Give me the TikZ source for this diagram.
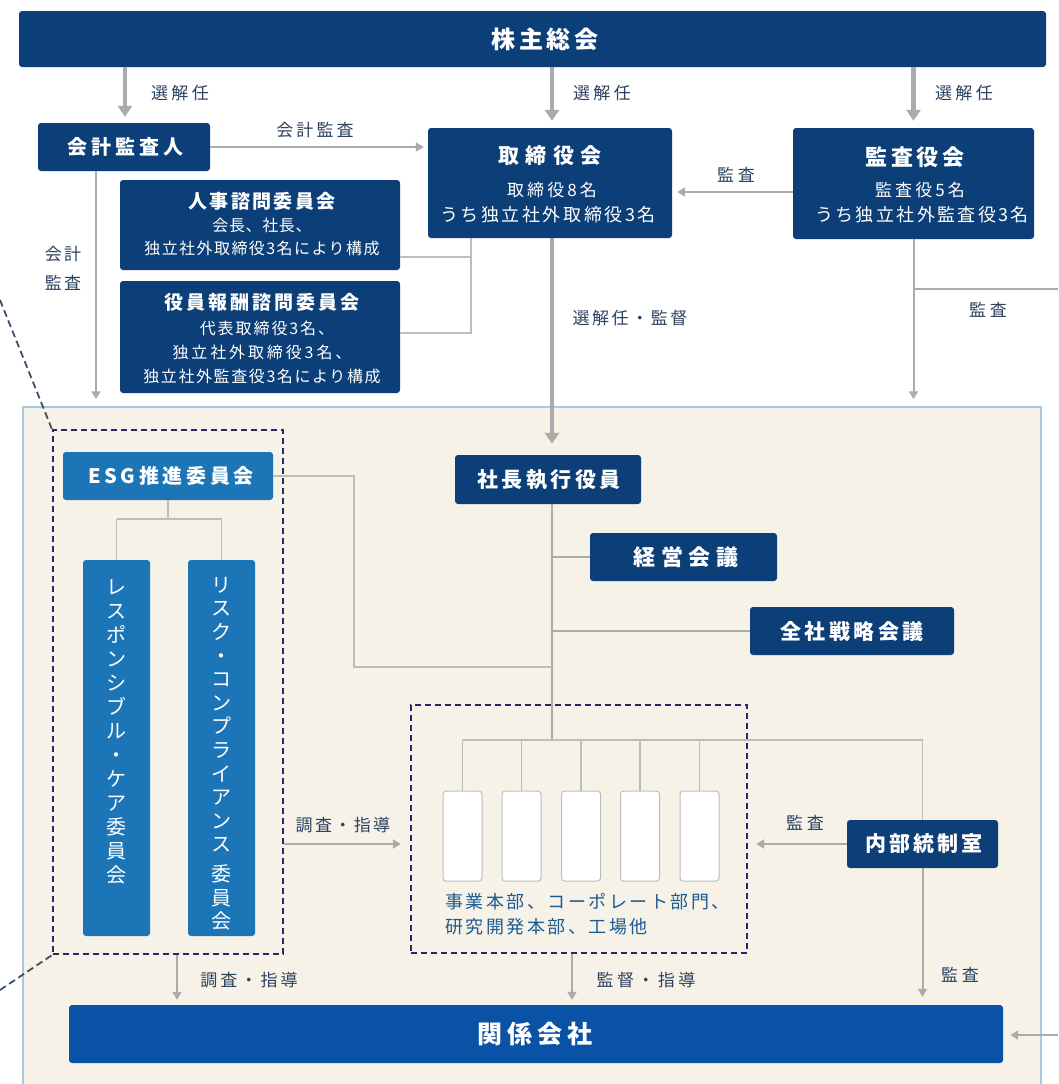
\documentclass[tikz,border=0pt]{standalone}
\usepackage{fontspec}
\setmainfont{Noto Sans CJK JP}
\usetikzlibrary{arrows.meta}
\definecolor{navy}{HTML}{0C3E78}
\definecolor{esgblue}{HTML}{1B75B7}
\definecolor{kblue}{HTML}{0952A5}
\definecolor{beige}{HTML}{F6F2E7}
\definecolor{beigeedge}{HTML}{A9C8E0}
\definecolor{lblcol}{HTML}{2B4260}
\definecolor{unitcol}{HTML}{1E5A96}
\definecolor{arrowgray}{HTML}{ABABAB}
\definecolor{treegray}{HTML}{BDBDBD}
\definecolor{dashcol}{HTML}{282864}
\definecolor{diagcol}{HTML}{3C506E}
\newcommand{\myfs}[2]{\fontsize{#1}{#2}\selectfont}
\newcommand{\lsp}[1]{\addfontfeatures{LetterSpace=#1}}
\begin{document}
\begin{tikzpicture}[x=1pt,y=-1pt,
  navybox/.style={fill=navy, rounded corners=3pt, inner sep=0pt, draw=none},
  esgbox/.style={fill=esgblue, rounded corners=3pt, inner sep=0pt, draw=none},
  whitebox/.style={fill=white, draw=treegray, line width=1pt, rounded corners=3pt, inner sep=0pt, minimum width=39pt, minimum height=90pt},
  wtxt/.style={text=white, inner sep=0pt, align=center},
  lbl/.style={text=lblcol, inner sep=0pt, align=center, font=\myfs{17}{20}},
  thickarrow/.style={draw=arrowgray, line width=4.5pt, -{Triangle[width=14pt,length=11pt]}},
  thinarrow/.style={draw=arrowgray, line width=2pt, -{Triangle[width=9pt,length=8pt]}},
  spineline/.style={draw=arrowgray, line width=2pt},
  treeline/.style={draw=treegray, line width=1.5pt},
  dashbox/.style={draw=dashcol, line width=2.4pt, dash pattern=on 6pt off 4pt, inner sep=0pt, fill=none},
  diagdash/.style={draw=diagcol, line width=1.8pt, dash pattern=on 7pt off 4pt}
]
\useasboundingbox (0,0) rectangle (1058,1084);
\fill[white] (0,0) rectangle (1058,1084);

% helper coordinates
\coordinate (xA) at (125,0);
\coordinate (xAud) at (96,0);
\coordinate (sp) at (552,0);
\coordinate (brk) at (471,0);
\coordinate (jy) at (0,257);
\coordinate (yy) at (0,333);
\coordinate (yK) at (0,192);
\coordinate (yBr) at (0,289);
\coordinate (offR1) at (1058,289);
\coordinate (offR2) at (1058,1035);
\coordinate (offL1) at (0,300);
\coordinate (offL2) at (0,990);
\coordinate (esgturn) at (354,0);
\coordinate (yjoin) at (0,667);
\coordinate (yt) at (0,519);
\coordinate (bus) at (0,740);
\coordinate (y844) at (0,844);
\coordinate (x177) at (177,0);
\coordinate (x572) at (572,0);

% executive area background
\node[fill=beige, draw=beigeedge, line width=1.5pt, inner sep=0pt, minimum width=1018pt, minimum height=690pt] (exec) at (532,752) {};

% top level boxes
\node[navybox, minimum width=1027pt, minimum height=56pt] (gm) at (532.5,39) {};
\node[wtxt, font=\myfs{24}{28}\bfseries\lsp{16}] (gmT) at (545,39) {株主総会};

\node[navybox, minimum width=172pt, minimum height=48pt] (auditor) at (124,147) {};
\node[wtxt, font=\myfs{20}{24}\bfseries\lsp{20}] (auditorT) at (125,147) {会計監査人};

\node[navybox, minimum width=244pt, minimum height=110pt] (board) at (550,183) {};
\node[wtxt, font=\myfs{21}{24}\bfseries\lsp{30}] (boardT) at (550,156) {取締役会};
\node[wtxt, font=\myfs{17}{20}\lsp{18}] (boardL2) at (552,190) {取締役8名};
\node[wtxt, font=\myfs{18}{20}\lsp{14}] (boardL3) at (548,215) {うち独立社外取締役3名};

\node[navybox, minimum width=241pt, minimum height=111pt] (kansa) at (913.5,183.5) {};
\node[wtxt, font=\myfs{22}{24}\bfseries\lsp{17}] (kansaT) at (915,157) {監査役会};
\node[wtxt, font=\myfs{17}{20}\lsp{18}] (kansaL2) at (920,190) {監査役5名};
\node[wtxt, font=\myfs{18}{20}\lsp{13}] (kansaL3) at (922,215) {うち独立社外監査役3名};

\node[navybox, minimum width=280pt, minimum height=90pt] (jinji) at (260,225) {};
\node[wtxt, font=\myfs{19}{22}\bfseries\lsp{12}] (jinjiT) at (262,201) {人事諮問委員会};
\node[wtxt, font=\myfs{16}{18}\lsp{4}] (jinjiL2) at (262,225) {会長、社長、};
\node[wtxt, font=\myfs{16}{18}\lsp{9}] (jinjiL3) at (262,248) {独立社外取締役3名により構成};

\node[navybox, minimum width=280pt, minimum height=112pt] (yakuin) at (260,337) {};
\node[wtxt, font=\myfs{19}{22}\bfseries\lsp{16}] (yakuinT) at (262,302) {役員報酬諮問委員会};
\node[wtxt, font=\myfs{16}{18}\lsp{12}] (yakuinL2) at (267,328) {代表取締役3名、};
\node[wtxt, font=\myfs{16}{18}\lsp{18}] (yakuinL3) at (262,352) {独立社外取締役3名、};
\node[wtxt, font=\myfs{16}{18}\lsp{10}] (yakuinL4) at (262,376) {独立社外監査役3名により構成};

% labels top
\node[lbl, font=\myfs{17}{20}\lsp{20}] (l1) at (180,93) {選解任};
\node[lbl, font=\myfs{17}{20}\lsp{20}] (l2) at (602,93) {選解任};
\node[lbl, font=\myfs{17}{20}\lsp{20}] (l3) at (964,93) {選解任};
\node[lbl, font=\myfs{17}{20}\lsp{18}] (l4) at (315,130) {会計監査};
\node[lbl, font=\myfs{17}{29}\lsp{14}] (l5) at (63,268) {会計\\監査};
\node[lbl, font=\myfs{17}{20}\lsp{22}] (l6) at (736,175) {監査};
\node[lbl, font=\myfs{17}{20}\lsp{15}] (l7) at (630,318) {選解任・監督};
\node[lbl, font=\myfs{17}{20}\lsp{22}] (l8) at (988,310) {監査};

% top connectors
\draw[thickarrow, shorten >=6pt] (gm.south -| xA) -- (auditor.north -| xA);
\draw[thickarrow, shorten >=7pt] (gm.south -| sp) -- (board.north -| sp);
\draw[thickarrow, shorten >=7pt] (gm.south -| kansa.north) -- (kansa.north);
\draw[thinarrow, shorten >=4pt] (auditor.east) -- (auditor.east -| board.west);
\draw[thinarrow, shorten >=5pt] (kansa.west |- yK) -- (board.east |- yK);
\draw[thinarrow, shorten >=7pt] (auditor.south -| xAud) -- (exec.north -| xAud);
\draw[thinarrow, shorten >=7pt] (kansa.south) -- (kansa.south |- exec.north);
\draw[spineline] (kansa.south |- yBr) -- (offR1);
\draw[treeline] (board.south -| brk) -- (brk |- yy) -- (yakuin.east |- yy);
\draw[treeline] (brk |- jy) -- (jinji.east |- jy);

% ESG group
\node[dashbox, minimum width=230pt, minimum height=524pt] (esgdash) at (168,692) {};
\node[esgbox, minimum width=210pt, minimum height=48pt] (esg) at (168,476) {};
\node[wtxt, font=\myfs{20}{24}\bfseries\lsp{18}] (esgT) at (171,476) {ESG推進委員会};
\node[esgbox, minimum width=67pt, minimum height=376pt] (resp) at (116.5,748) {};
\node[esgbox, minimum width=67pt, minimum height=376pt] (risk) at (221.5,748) {};
\node[wtxt, anchor=north, font=\myfs{20}{24}] (respT) at (116.5,579) {レ\\ス\\ポ\\ン\\シ\\ブ\\ル\\・\\ケ\\ア\\委\\員\\会};
\node[wtxt, anchor=north, font=\myfs{20}{23.6}] (riskT) at (221.5,577) {リ\\ス\\ク\\・\\コ\\ン\\プ\\ラ\\イ\\ア\\ン\\ス\\[6pt]委\\員\\会};
\draw[treeline] (esg.south) -- (esg.south |- yt);
\draw[treeline] (resp.north |- yt) -- (risk.north |- yt);
\draw[treeline] (resp.north |- yt) -- (resp.north);
\draw[treeline] (risk.north |- yt) -- (risk.north);

% executive chain
\node[navybox, minimum width=186pt, minimum height=49pt] (president) at (548,479.5) {};
\node[wtxt, font=\myfs{21}{24}\bfseries\lsp{17}] (presidentT) at (549,480) {社長執行役員};
\node[navybox, minimum width=187pt, minimum height=48pt] (keiei) at (683.5,557) {};
\node[wtxt, font=\myfs{22}{24}\bfseries\lsp{27}] (keieiT) at (686,557) {経営会議};
\node[navybox, minimum width=204pt, minimum height=48pt] (zensha) at (852,631) {};
\node[wtxt, font=\myfs{21}{24}\bfseries\lsp{17}] (zenshaT) at (852,631) {全社戦略会議};

\draw[thickarrow, shorten >=11pt] (board.south -| sp) -- (president.north -| sp);
\draw[spineline] (president.south -| sp) -- (sp |- bus);
\draw[spineline] (sp |- keiei.west) -- (keiei.west);
\draw[spineline] (sp |- zensha.west) -- (zensha.west);
\draw[treeline] (esg.east) -- (esgturn |- esg.east) -- (esgturn |- yjoin) -- (sp |- yjoin);

% business units
\node[dashbox, minimum width=336pt, minimum height=248pt] (unitsdash) at (579,829) {};
\node[whitebox] (u1) at (462.5,836) {};
\node[whitebox] (u2) at (521.5,836) {};
\node[whitebox] (u3) at (581,836) {};
\node[whitebox] (u4) at (640,836) {};
\node[whitebox] (u5) at (699.5,836) {};
\node[text=unitcol, anchor=north west, inner sep=0pt, align=left, font=\myfs{18}{25}\lsp{14}] (unitsT) at (445,893) {事業本部、コーポレート部門、\\研究開発本部、工場他};

\node[navybox, minimum width=151pt, minimum height=48pt] (naibu) at (922.5,844) {};
\node[wtxt, font=\myfs{21}{24}\bfseries\lsp{14}] (naibuT) at (924,844) {内部統制室};

\draw[treeline] (u1.north |- bus) -- (naibu.north |- bus) -- (naibu.north);
\foreach \i in {1,...,5} { \draw[treeline] (u\i.north |- bus) -- (u\i.north); }

% bottom
\node[fill=kblue, rounded corners=3pt, inner sep=0pt, minimum width=934pt, minimum height=58pt] (kankei) at (536,1034) {};
\node[wtxt, font=\myfs{25}{28}\bfseries\lsp{20}] (kankeiT) at (535,1034) {関係会社};

\draw[thinarrow, shorten >=9pt] (esgdash.east |- y844) -- (unitsdash.west |- y844);
\draw[thinarrow, shorten >=8pt] (naibu.west) -- (naibu.west -| unitsdash.east);
\draw[thinarrow, shorten >=8pt] (naibu.south) -- (naibu.south |- kankei.north);
\draw[thinarrow, shorten >=5pt] (esgdash.south -| x177) -- (kankei.north -| x177);
\draw[thinarrow, shorten >=5pt] (unitsdash.south -| x572) -- (kankei.north -| x572);
\draw[thinarrow, shorten >=7pt] (offR2) -- (kankei.east |- offR2);

\node[lbl, font=\myfs{17}{20}\lsp{14}] (l9) at (343,825) {調査・指導};
\node[lbl, font=\myfs{17}{20}\lsp{22}] (l10) at (805,823) {監査};
\node[lbl, font=\myfs{17}{20}\lsp{18}] (l11) at (249,980) {調査・指導};
\node[lbl, font=\myfs{17}{20}\lsp{20}] (l12) at (646,980) {監督・指導};
\node[lbl, font=\myfs{17}{20}\lsp{22}] (l13) at (960,975) {監査};

% leader lines on the left
\draw[diagdash] (offL1) -- (esgdash.north west);
\draw[diagdash] (offL2) -- (esgdash.south west);
\end{tikzpicture}
\end{document}
